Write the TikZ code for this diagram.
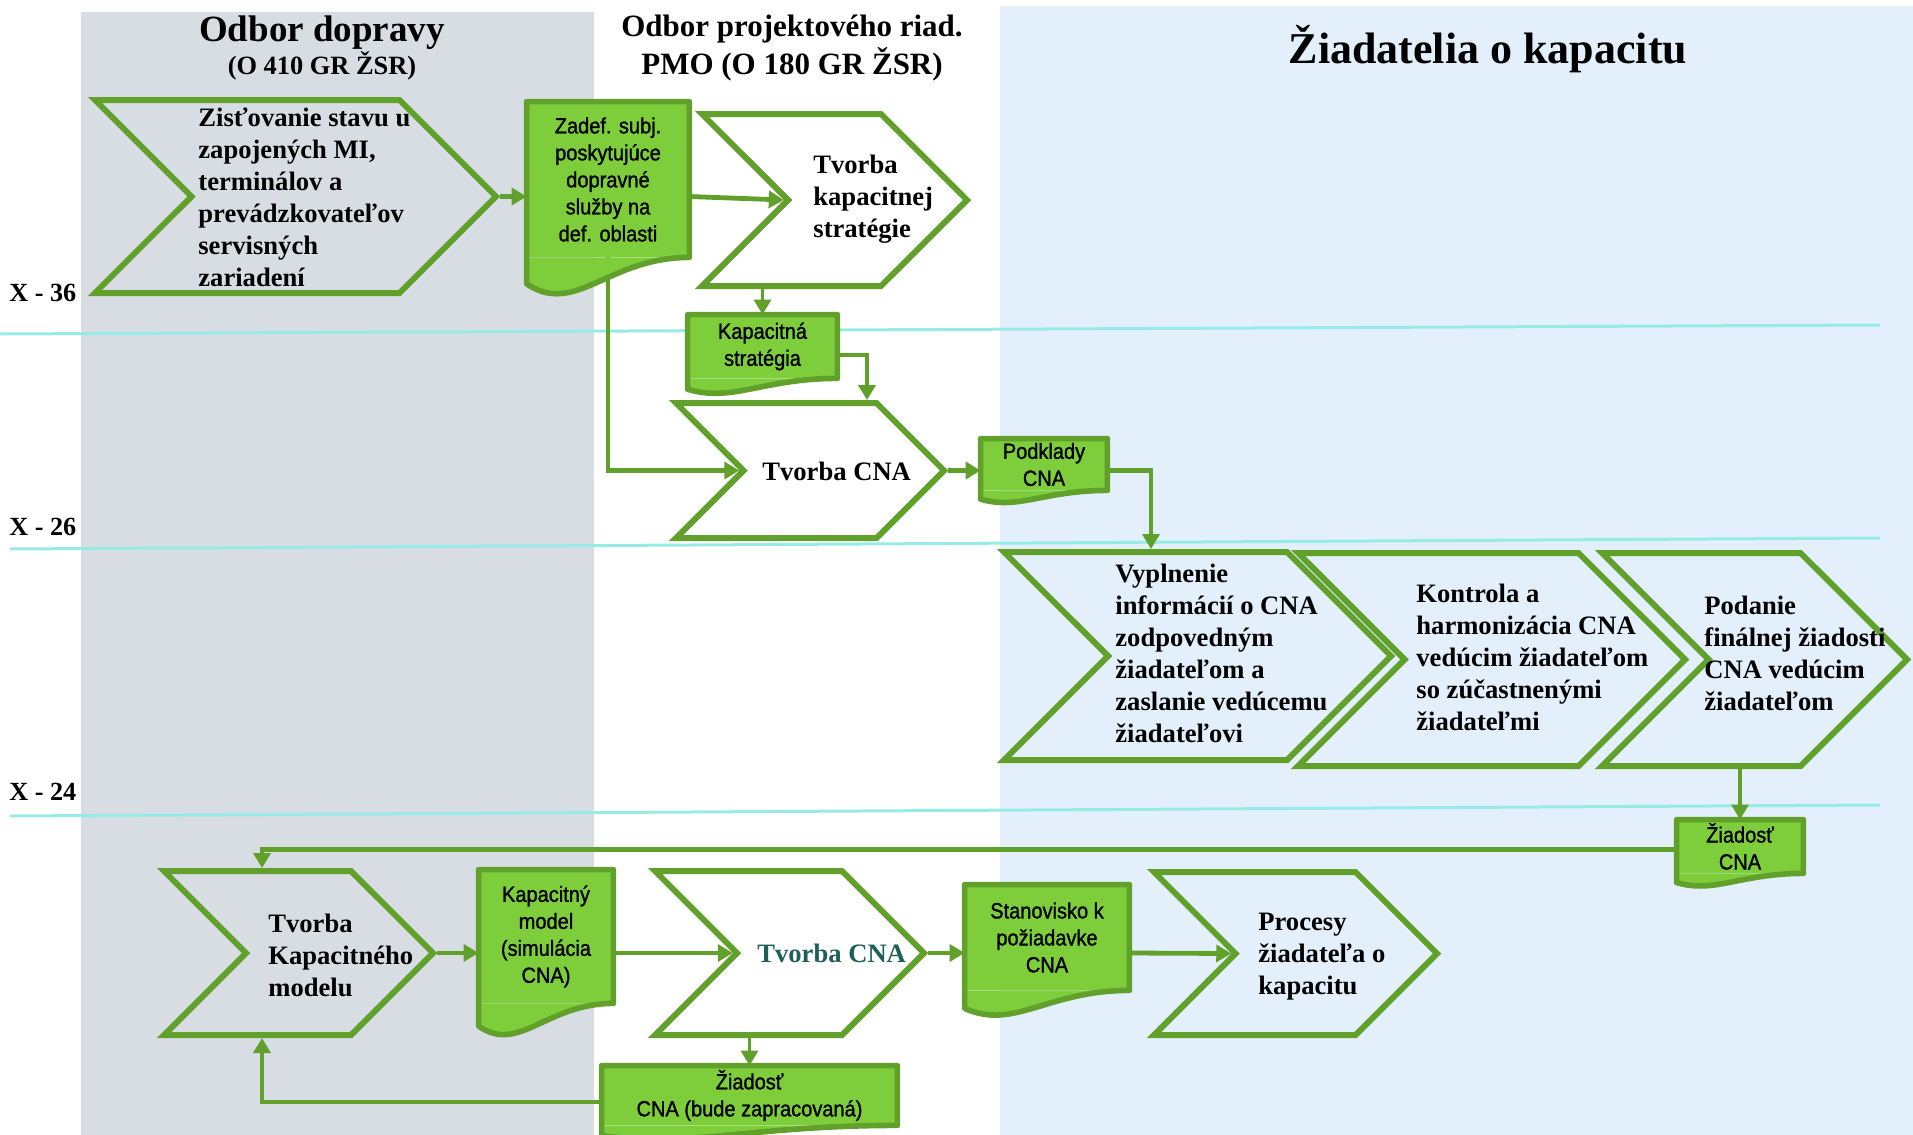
\documentclass[tikz,border=0pt]{standalone}
\usepackage{fontspec}
\setmainfont{Liberation Serif}
\newfontfamily\docfont[FakeStretch=0.91, FakeBold=1.2]{Liberation Sans}
\usetikzlibrary{shapes.symbols,arrows.meta,calc}

\definecolor{procgreen}{HTML}{62A02C}
\definecolor{docfill}{HTML}{7DCE3A}
\definecolor{dopravagray}{HTML}{D8DDE4}
\definecolor{ziadblue}{HTML}{E3F0FC}
\definecolor{rowcyan}{HTML}{96ECE4}
\definecolor{cnateal}{HTML}{1E5F5A}

\tikzset{
  proc/.style={signal, signal to=east, signal from=west, draw=procgreen, line width=3pt, inner sep=0pt},
  proctext/.style={anchor=west, align=left, inner sep=0pt, font=\fontsize{13.3}{16}\selectfont\bfseries},
  doc/.style={rectangle, fill=docfill, inner sep=0pt, align=center, font=\docfont\fontsize{11}{13.5}\selectfont},
  flow/.style={draw=procgreen, line width=2.4pt},
  arr/.style={flow, -{Triangle[length=7.5pt,width=8.5pt]}},
  thinarr/.style={arr, line width=1.6pt},
  head/.style={anchor=base, inner sep=0pt, font=\fontsize{#1}{#1}\selectfont\bfseries},
}

\newcommand{\docwave}[1]{%
  \fill[docfill] let \p1=(#1.south west), \p2=(#1.north east), \n1={\x2-\x1}, \n2={\y2-\y1} in
    (\x2,\y1) .. controls (\x2-0.5*\n1,\y1) and (\x1+0.3*\n1,\y1-0.38*\n2) .. (\x1,\y1-0.17*\n2) -- (\x1,\y1) -- cycle;
  \draw[procgreen, line width=2.8pt, line join=round] let \p1=(#1.south west), \p2=(#1.north east), \n1={\x2-\x1}, \n2={\y2-\y1} in
    (\x2,\y1) -- (\x2,\y2) -- (\x1,\y2) -- (\x1,\y1-0.17*\n2) .. controls (\x1+0.3*\n1,\y1-0.38*\n2) and (\x2-0.5*\n1,\y1) .. (\x2,\y1) -- cycle;
}

\begin{document}
\begin{tikzpicture}[x=0.5pt, y=-0.5pt]
    \useasboundingbox (0,0) rectangle (1913,1135);
    \fill[dopravagray] (81,12) rectangle (594,1135);
    \fill[ziadblue] (1000,6) rectangle (1913,1135);

    \foreach \lab/\xa/\ya/\yb/\yl in {36/0/334/325/301, 26/10/549/538/535, 24/10/816/805/800} {
        \draw[rowcyan, line width=1.5pt] (\xa,\ya) -- (1880,\yb);
        \node[anchor=base west, inner sep=0pt, font=\fontsize{13.1}{16}\selectfont\bfseries] (row\lab) at (9,\yl) {X - \lab};
    }

    \node[head=18.5] (doprava) at (322,41) {Odbor dopravy};
    \node[head=13.2] (doprava-s) at (322,75) {(O 410 GR ŽSR)};
    \node[head=15.5] (pmo) at (792,36) {Odbor projektového riad.};
    \node[head=15.5] (pmo-s) at (792,74) {PMO (O 180 GR ŽSR)};
    \node[head=22] (ziadatelia) at (1488,63) {Žiadatelia o kapacitu};

    \node[proc, minimum width=200.5pt, minimum height=96.5pt] (zist) at (295.5,196.5) {};
    \node[proctext] (zist-t) at (198,197) {Zisťovanie stavu u\\zapojených MI,\\terminálov a\\prevádzkovateľov\\servisných\\zariadení};
    \node[proc, minimum width=132.5pt, minimum height=86pt] (kapstrat) at (834.5,200) {};
    \node[proctext] (kapstrat-t) at (813,199) {Tvorba\\kapacitnej\\stratégie};
    \node[proc, minimum width=134pt, minimum height=67.5pt] (cnaA) at (810,470.5) {};
    \node[proctext] (cnaA-t) at (762,471) {Tvorba CNA};
    \node[proc, minimum width=193.5pt, minimum height=104pt] (vypl) at (1197.5,656) {};
    \node[proctext] (vypl-t) at (1115,653) {Vyplnenie\\informácií o CNA\\zodpovedným\\žiadateľom a\\zaslanie vedúcemu\\žiadateľovi};
    \node[proc, minimum width=193.5pt, minimum height=106.5pt] (kontr) at (1491.5,659.5) {};
    \node[proctext] (kontr-t) at (1416,657.5) {Kontrola a\\harmonizácia CNA\\vedúcim žiadateľom\\so zúčastnenými\\žiadateľmi};
    \node[proc, minimum width=152.5pt, minimum height=106.5pt] (podan) at (1754.5,659.5) {};
    \node[proctext] (podan-t) at (1704,653.5) {Podanie\\finálnej žiadosti\\CNA vedúcim\\žiadateľom};
    \node[proc, minimum width=134.5pt, minimum height=82pt] (kapmod) at (298.5,953) {};
    \node[proctext] (kapmod-t) at (268,955.5) {Tvorba\\Kapacitného\\modelu};
    \node[proc, minimum width=134.5pt, minimum height=82pt] (cnaB) at (789.5,953) {};
    \node[proctext, text=cnateal] (cnaB-t) at (757,953) {Tvorba CNA};
    \node[proc, minimum width=141.5pt, minimum height=81.5pt] (procesy) at (1295.5,953.5) {};
    \node[proctext] (procesy-t) at (1258,957) {Procesy\\žiadateľa o\\kapacitu};

    \node[doc, minimum width=81pt, minimum height=77.5pt] (zadef) at (608,179.5) {Zadef. subj.\\poskytujúce\\dopravné\\služby na\\def. oblasti};
    \node[doc, minimum width=74.5pt, minimum height=31.5pt] (kapdoc) at (762.5,346.5) {Kapacitná\\stratégia};
    \node[doc, minimum width=63pt, minimum height=25.5pt] (podkl) at (1044,464.5) {Podklady\\CNA};
    \node[doc, minimum width=63pt, minimum height=26.5pt] (ziadost) at (1740,846.5) {Žiadosť\\CNA};
    \node[doc, minimum width=67pt, minimum height=66.5pt] (kmodel) at (546,936.5) {Kapacitný\\model\\(simulácia\\CNA)};
    \node[doc, minimum width=82pt, minimum height=52.5pt] (stanov) at (1047,937.5) {Stanovisko k\\požiadavke\\CNA};
    \node[doc, minimum width=147.5pt, minimum height=29.5pt] (ziadbude) at (749.5,1095.5) {Žiadosť\\CNA (bude zapracovaná)};

    \draw[arr] (zist.east) -- (zist.east -| zadef.west);
    \draw[arr] (zadef.east |- zist.east) -- (kapstrat.west);
    \draw[thinarr] (kapstrat.south -| kapdoc.north) -- (kapdoc.north);
    \draw[arr] ([yshift=-4.25pt]kapdoc.east) -| ([xshift=28.5pt]cnaA.north);
    \draw[arr] (zadef.south) |- (cnaA.west);
    \draw[arr] (cnaA.east) -- (cnaA.east -| podkl.west);
    \draw[arr] ([yshift=-3pt]podkl.east) -| ([xshift=-23.25pt]vypl.north);
    \draw[thinarr] (podan.south -| ziadost.north) -- (ziadost.north);
    \draw[arr] ([yshift=-1.5pt]ziadost.west) -| ([xshift=-18.25pt]kapmod.north);
    \draw[arr] (kapmod.east) -- (kapmod.east -| kmodel.west);
    \draw[arr] (kmodel.east |- kapmod.east) -- (cnaB.west);
    \draw[arr] (cnaB.east) -- (cnaB.east -| stanov.west);
    \draw[arr] (stanov.east |- cnaB.east) -- (procesy.west);
    \draw[thinarr] (cnaB.south -| ziadbude.north) -- (ziadbude.north);
    \draw[arr] ([yshift=-3.25pt]ziadbude.west) -| ([xshift=-18.25pt]kapmod.south);

    \foreach \d in {zadef, kapdoc, podkl, ziadost, kmodel, stanov, ziadbude} {
        \docwave{\d}
    }
\end{tikzpicture}
\end{document}
